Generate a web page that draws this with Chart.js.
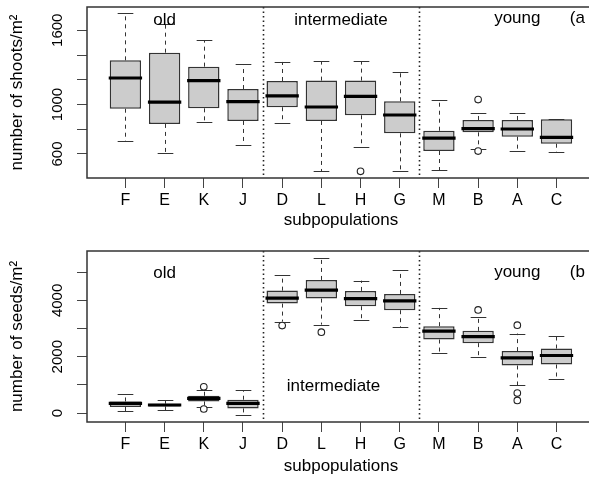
<!DOCTYPE html>
<html><head><meta charset="utf-8">
<script src="https://cdn.jsdelivr.net/npm/chart.js@4/dist/chart.umd.min.js"></script>
<style>
html,body{margin:0;padding:0;overflow:hidden;background:#fff;width:589px;height:477px;}
#wrap{position:relative;width:589px;height:477px;overflow:hidden;}
canvas{display:block;}
</style></head><body>
<div id="wrap">
<canvas id="c1" width="600" height="238"></canvas>
<canvas id="c2" width="600" height="239"></canvas>
</div>
<script>
// ---------- data ----------
const categories = ['F','E','K','J','D','L','H','G','M','B','A','C'];
const groupNames = ['old','intermediate','young'];
const groupBreaks = [4.5, 8.5];

// panel (a): number of shoots / m2
const shootsLowerWhisker = [705, 606, 859, 673, 851, 460, 654, 460, 468, 638, 624, 616];
const shootsQ1           = [966, 843, 969, 867, 978, 867, 913, 767, 624, 775, 740, 683];
const shootsMedian       = [1214,1020,1193,1023,1069, 980,1066, 915, 729, 805, 802, 735];
const shootsQ3           = [1357,1419,1306,1125,1190,1193,1193,1026, 788, 875, 875, 880];
const shootsUpperWhisker = [1742,1648,1519,1325,1344,1349,1349,1263,1037, 929, 929, 880];
const shootsOutliers     = [[],[],[],[],[],[],[460],[],[],[1040,624],[],[]];
const shootsTicks        = [600, 800, 1000, 1200, 1400, 1600];
const shootsTickLabels   = ['600','','1000','','','1600'];

// panel (b): number of seeds / m2
const seedsLowerWhisker = [57, 106, 213, -85, 3248, 3142, 3298, 3060, 2138, 1996, 979, 1216];
const seedsQ1           = [213, 234, 411, 163, 3887, 4064, 3794, 3652, 2610, 2482, 1688, 1723];
const seedsMedian       = [340, 284, 518, 340, 4078, 4362, 4064, 3982, 2908, 2716, 1961, 2043];
const seedsQ3           = [411, 330, 613, 472, 4348, 4727, 4337, 4230, 3085, 2918, 2199, 2291];
const seedsUpperWhisker = [660, 447, 801, 816, 4915, 5518, 4702, 5082, 3734, 3426, 2823, 2741];
const seedsOutliers     = [[],[],[933,142],[],[3106],[2872],[],[],[],[3663],[3121,709,447],[]];
const seedsTicks        = [0, 1000, 2000, 3000, 4000, 5000];
const seedsTickLabels   = ['0','','2000','','4000',''];

// ---------- drawing ----------
function makePanel(canvasId, p) {
  const boxData = categories.map((c, i) => ({x: i + 1, y: [p.q1[i], p.q3[i]]}));
  const outData = [];
  p.out.forEach((arr, i) => arr.forEach(v => outData.push({x: i + 1, y: v})));

  const parts = {
    id: 'boxparts',
    beforeDatasetsDraw(chart) {
      const ctx = chart.ctx, xs = chart.scales.x, ys = chart.scales.y, ca = chart.chartArea;
      const meta = chart.getDatasetMeta(0);
      ctx.save();
      // group separators
      ctx.strokeStyle = '#222'; ctx.lineWidth = 1.6; ctx.setLineDash([1.5, 3]);
      groupBreaks.forEach(b => {
        const x = Math.round(xs.getPixelForValue(b)) + 0.5;
        ctx.beginPath(); ctx.moveTo(x, ca.top); ctx.lineTo(x, ca.bottom); ctx.stroke();
      });
      // whiskers and staples
      ctx.strokeStyle = '#333'; ctx.lineWidth = 1;
      categories.forEach((c, i) => {
        const x = Math.round(xs.getPixelForValue(i + 1)) + 0.5;
        const w = meta.data[i].width;
        const yq1 = ys.getPixelForValue(p.q1[i]), yq3 = ys.getPixelForValue(p.q3[i]);
        const ylo = ys.getPixelForValue(p.lo[i]), yhi = ys.getPixelForValue(p.hi[i]);
        ctx.setLineDash([4, 4]);
        ctx.beginPath();
        ctx.moveTo(x, yq3); ctx.lineTo(x, yhi);
        ctx.moveTo(x, yq1); ctx.lineTo(x, ylo);
        ctx.stroke();
        ctx.setLineDash([]);
        ctx.beginPath();
        ctx.moveTo(x - w / 4, Math.round(yhi) + 0.5); ctx.lineTo(x + w / 4, Math.round(yhi) + 0.5);
        ctx.moveTo(x - w / 4, Math.round(ylo) + 0.5); ctx.lineTo(x + w / 4, Math.round(ylo) + 0.5);
        ctx.stroke();
      });
      ctx.restore();
    },
    afterDatasetsDraw(chart) {
      const ctx = chart.ctx, xs = chart.scales.x, ys = chart.scales.y;
      const meta = chart.getDatasetMeta(0);
      ctx.save();
      ctx.strokeStyle = '#000'; ctx.lineWidth = 3.2; ctx.lineCap = 'butt';
      categories.forEach((c, i) => {
        const x = xs.getPixelForValue(i + 1);
        const w = meta.data[i].width;
        const y = ys.getPixelForValue(p.med[i]);
        ctx.beginPath(); ctx.moveTo(x - w / 2 - 1, y); ctx.lineTo(x + w / 2 + 1, y); ctx.stroke();
      });
      ctx.restore();
    },
    afterDraw(chart) {
      const ctx = chart.ctx, xs = chart.scales.x, ys = chart.scales.y, ca = chart.chartArea;
      ctx.save();
      // plot frame
      ctx.strokeStyle = '#333'; ctx.lineWidth = 1.5;
      ctx.strokeRect(ca.left, ca.top, ca.right - ca.left, ca.bottom - ca.top);
      // y tick labels (parallel to axis)
      ctx.fillStyle = '#000';
      ctx.font = '15px "Liberation Sans", Arial, sans-serif';
      ctx.textAlign = 'center'; ctx.textBaseline = 'alphabetic';
      p.ticks.forEach((v, k) => {
        const lab = p.tickLabels[k];
        if (!lab) return;
        const y = ys.getPixelForValue(v);
        ctx.save(); ctx.translate(62, y); ctx.rotate(-Math.PI / 2);
        ctx.fillText(lab, 0, 0); ctx.restore();
      });
      // group names and panel tag
      ctx.font = '17px "Liberation Sans", Arial, sans-serif';
      p.notes.forEach(n => {
        ctx.textAlign = n.align;
        ctx.fillText(n.text, xs.getPixelForValue(n.x), ys.getPixelForValue(n.y));
      });
      ctx.restore();
    }
  };

  return new Chart(document.getElementById(canvasId), {
    type: 'bar',
    data: {
      datasets: [
        {type: 'bar', data: boxData, backgroundColor: '#cccccc', borderColor: '#333', borderWidth: 1.5,
         borderSkipped: false, barPercentage: 0.8, categoryPercentage: 1.0},
        {type: 'scatter', data: outData, pointStyle: 'circle', pointRadius: 3.3, borderColor: '#222',
         backgroundColor: '#fff', pointBorderWidth: 1.1, borderWidth: 1.1}
      ]
    },
    options: {
      responsive: false, animation: false, devicePixelRatio: 1,
      layout: {padding: {top: p.padTop, right: 0.9, left: 0, bottom: 0}},
      plugins: {legend: {display: false}, tooltip: {enabled: false}},
      scales: {
        x: {
          type: 'linear', min: 0.02, max: 12.98, offset: false,
          afterBuildTicks: s => { s.ticks = categories.map((c, i) => ({value: i + 1})); },
          afterFit: s => { s.height = p.xHeight; s.paddingLeft = 0; s.paddingRight = 0; },
          ticks: {autoSkip: false, maxRotation: 0, minRotation: 0, padding: 3, color: '#000',
                  font: {family: '"Liberation Sans", Arial, sans-serif', size: 16},
                  callback: v => categories[Math.round(v) - 1]},
          grid: {display: true, offset: false, drawOnChartArea: false, drawTicks: true, tickLength: 10, color: '#444', lineWidth: 1},
          border: {display: false},
          title: {display: true, text: 'subpopulations', color: '#000',
                  font: {family: '"Liberation Sans", Arial, sans-serif', size: 17},
                  padding: {top: 0, bottom: p.xTitlePad}}
        },
        y: {
          type: 'linear', min: p.min, max: p.max,
          afterBuildTicks: s => { s.ticks = p.ticks.map(v => ({value: v})); },
          afterFit: s => { s.width = 87; s.paddingTop = 0; s.paddingBottom = 0; },
          ticks: {display: false},
          grid: {display: true, drawOnChartArea: false, drawTicks: true, tickLength: 10, color: '#444', lineWidth: 1},
          border: {display: false},
          title: {display: true, text: p.ytitle, color: '#000',
                  font: {family: '"Liberation Sans", Arial, sans-serif', size: 17},
                  padding: {top: 7, bottom: 0}}
        }
      }
    },
    plugins: [parts]
  });
}

makePanel('c1', {
  lo: shootsLowerWhisker, q1: shootsQ1, med: shootsMedian, q3: shootsQ3, hi: shootsUpperWhisker,
  out: shootsOutliers, ticks: shootsTicks, tickLabels: shootsTickLabels,
  min: 406, max: 1788, padTop: 7, xHeight: 60, xTitlePad: 7,
  ytitle: 'number of shoots/m²',
  notes: [
    {text: groupNames[0], x: 2.0, y: 1643, align: 'center'},
    {text: groupNames[1], x: 6.5, y: 1643, align: 'center'},
    {text: groupNames[2], x: 11.0, y: 1662, align: 'center'},
    {text: '(a', x: 12.34, y: 1662, align: 'left'}
  ]
});

makePanel('c2', {
  lo: seedsLowerWhisker, q1: seedsQ1, med: seedsMedian, q3: seedsQ3, hi: seedsUpperWhisker,
  out: seedsOutliers, ticks: seedsTicks, tickLabels: seedsTickLabels,
  min: -319, max: 5755, padTop: 13, xHeight: 55, xTitlePad: 0,
  ytitle: 'number of seeds/m²',
  notes: [
    {text: groupNames[0], x: 2.0, y: 4787, align: 'center'},
    {text: groupNames[1], x: 6.31, y: 766, align: 'center'},
    {text: groupNames[2], x: 11.0, y: 4844, align: 'center'},
    {text: '(b', x: 12.34, y: 4844, align: 'left'}
  ]
});
</script>
</body></html>
